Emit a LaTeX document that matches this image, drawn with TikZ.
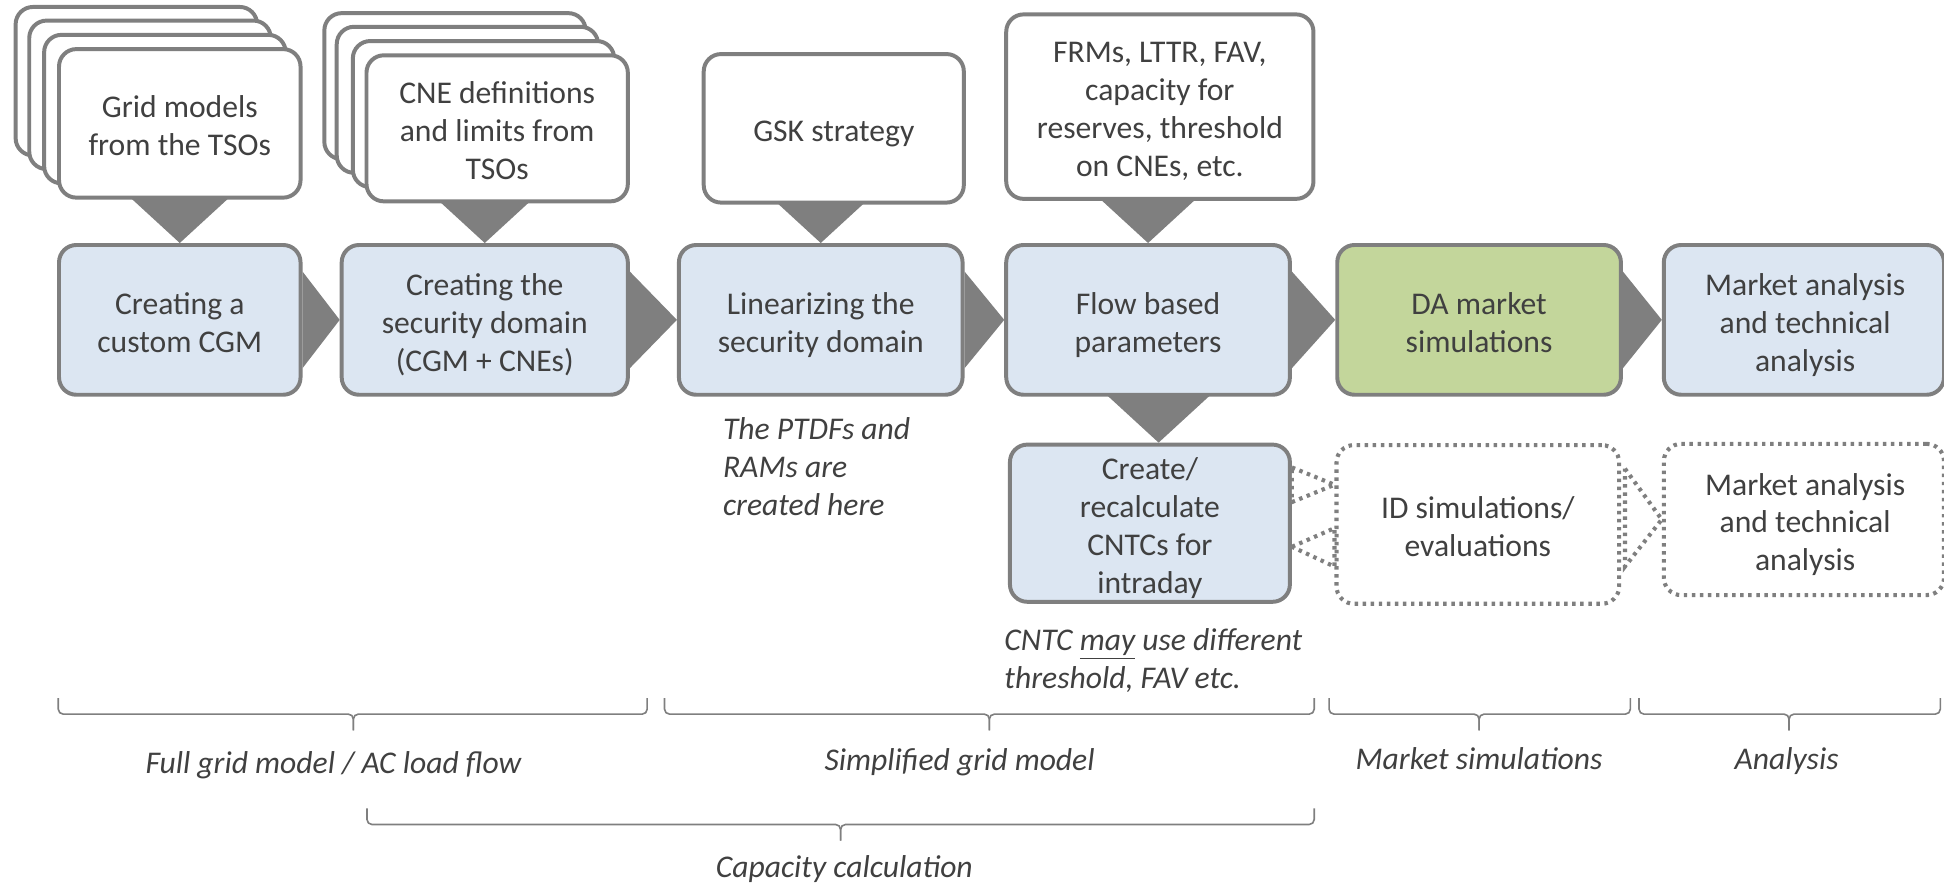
\documentclass[tikz,border=0pt]{standalone}
\usepackage{fontspec}
\setmainfont{Carlito}
\usetikzlibrary{calc}
\definecolor{boxblue}{HTML}{DCE6F2}
\definecolor{boxgreen}{HTML}{C3D69B}
\definecolor{edge}{HTML}{7F7F7F}
\definecolor{ink}{HTML}{404040}
\pgfdeclarelayer{bg}
\pgfsetlayers{bg,main}

\tikzset{
  every node/.style={font=\fontsize{25.5}{30.6}\selectfont, text=ink},
  card/.style={draw=edge, line width=3.2pt, rounded corners=14pt, inner sep=0pt},
  stepcard/.style={card, fill=boxblue},
  note/.style={card, fill=white},
  dotcard/.style={draw=edge, line width=3.3pt, dash pattern=on 2.8pt off 3.7pt,
                  rounded corners=14pt, fill=white, inner sep=0pt},
  boxtext/.style={align=center, inner sep=0pt, text depth=0pt},
  feed/.style={fill=edge},
  dotfeed/.style={draw=edge, line width=3.3pt, dash pattern=on 2.8pt off 3.7pt, fill=white},
  brace/.style={draw=edge, line width=1.3pt, rounded corners=4pt},
  caption/.style={font=\fontsize{25.5}{30.6}\selectfont\itshape, text=ink,
                  inner sep=0pt, text depth=0pt},
}

\begin{document}
\begin{tikzpicture}[x=1pt, y=-1pt]
\useasboundingbox (0,0) rectangle (1568,713);

% ---- input stacks (back copies first) ----
\node[note, minimum width=194.8pt, minimum height=119.8pt] (gm3) at (110,65.5) {};
\node[note, minimum width=194.8pt, minimum height=119.8pt] (gm2) at (121,76.5) {};
\node[note, minimum width=194.8pt, minimum height=119.8pt] (gm1) at (133,88) {};
\node[note, minimum width=194.8pt, minimum height=119.8pt] (gm) at (145,99.5) {};
\node[boxtext] (gmt) at ($(gm)+(0,2)$) {Grid models\\from the TSOs};

\node[note, minimum width=210.8pt, minimum height=117.8pt] (cne3) at (367,69.5) {};
\node[note, minimum width=210.8pt, minimum height=117.8pt] (cne2) at (377,80.5) {};
\node[note, minimum width=210.8pt, minimum height=117.8pt] (cne1) at (390,92) {};
\node[note, minimum width=210.8pt, minimum height=117.8pt] (cne) at (401,103.5) {};
\node[boxtext] (cnet) at ($(cne)+(0,2)$) {CNE definitions\\and limits from\\TSOs};

\node[note, minimum width=209.8pt, minimum height=119.8pt] (gsk) at (672.5,103.5) {};
\node[boxtext] (gskt) at ($(gsk)+(0,2)$) {GSK strategy};
\node[note, minimum width=247.8pt, minimum height=148.8pt] (frm) at (935.5,86) {};
\node[boxtext] (frmt) at ($(frm)+(0,2.5)$)
  {FRMs, LTTR, FAV,\\capacity for\\reserves, threshold\\on CNEs, etc.};

% ---- process chain ----
\node[stepcard, minimum width=194.8pt, minimum height=120.8pt] (b1) at (145,258) {};
\node[stepcard, minimum width=230.8pt, minimum height=120.8pt] (b2) at (391,258) {};
\node[stepcard, minimum width=228.8pt, minimum height=120.8pt] (b3) at (662,258) {};
\node[stepcard, minimum width=228.8pt, minimum height=120.8pt] (b4) at (926,258) {};
\node[card, fill=boxgreen, minimum width=228.8pt, minimum height=120.8pt] (b5) at (1193,258) {};
\node[stepcard, minimum width=226pt, minimum height=120.8pt] (b6) at (1455,258) {};

\node[boxtext] (b1t) at ($(b1)+(0,2)$) {Creating a\\custom CGM};
\node[boxtext] (b2t) at ($(b2)+(0,2)$) {Creating the\\security domain\\(CGM + CNEs)};
\node[boxtext] (b3t) at ($(b3)+(0,2)$) {Linearizing the\\security domain};
\node[boxtext] (b4t) at ($(b4)+(0,2)$) {Flow based\\parameters};
\node[boxtext] (b5t) at ($(b5)+(0,2)$) {DA market\\simulations};
\node[boxtext] (b6t) at ($(b6)+(1,2)$) {Market analysis\\and technical\\analysis};

% ---- intraday branch ----
\node[stepcard, minimum width=225.8pt, minimum height=126.8pt] (cntc) at (927.5,422) {};
\node[dotcard, minimum width=228pt, minimum height=128pt] (id) at (1192,423) {};
\node[dotcard, minimum width=226pt, minimum height=122pt] (mktd) at (1455,419) {};

\node[boxtext] (cntct) at ($(cntc)+(0,2)$) {Create/\\recalculate\\CNTCs for\\intraday};
\node[boxtext] (idt) at ($(id)+(0,2)$) {ID simulations/\\evaluations};
\node[boxtext] (mktdt) at ($(mktd)+(1,2)$) {Market analysis\\and technical\\analysis};

% ---- solid feed triangles, behind the boxes ----
\begin{pgfonlayer}{bg}
  \foreach \lower in {b1,b2,b3,b4}{
    \fill[feed] ($(\lower.north)+(-49,-45)$) -- ($(\lower.north)+(49,-45)$)
      -- (\lower.north) -- cycle;
  }
  \fill[feed] ($(cntc.north)+(-42,-45)$) -- ($(cntc.north)+(56,-45)$)
    -- ($(cntc.north)+(7,0)$) -- cycle;
  \foreach \a/\b in {b1/b2,b2/b3,b3/b4,b4/b5,b5/b6}{
    \fill[feed] ($(\a.east)+(0,-39)$) -- (\b.west) -- ($(\a.east)+(0,39)$) -- cycle;
  }
\end{pgfonlayer}

% ---- dotted links of the intraday branch ----
\draw[dotfeed] ($(cntc.east)+(0,-45)$) -- ($(id.west)+(0,-32)$)
  -- ($(cntc.east)+(0,-17)$) -- cycle;
\draw[dotfeed] ($(cntc.east)+(0,19)$) -- ($(id.west)+(0,3)$)
  -- ($(id.west)+(0,34)$) -- cycle;
\draw[dotfeed] ($(id.east)+(3,-45)$) -- (mktd.west) -- ($(id.east)+(3,34)$) -- cycle;

% ---- annotations ----
\node[caption, anchor=west, align=left] (ptdf) at (583,376)
  {The PTDFs and\\RAMs are\\created here};
\node[caption, anchor=west, align=left] (cntcnote) at (810,531.5)
  {CNTC \underline{may} use different\\threshold, FAV etc.};

% ---- braces and phase labels ----
\node[caption] (lfull) at (269,615) {Full grid model / AC load flow};
\node[caption] (lsimp) at (774,613) {Simplified grid model};
\node[caption] (lmkt) at (1193,612) {Market simulations};
\node[caption] (lana) at (1441,612) {Analysis};
\node[caption] (lcap) at (681,699) {Capacity calculation};

\draw[brace] (47,563) |- (285,576) -- (285,589);
\draw[brace] (522,563) |- (285,576) -- (285,589);
\draw[brace] (536,563) |- (798,576) -- (798,589);
\draw[brace] (1060,563) |- (798,576) -- (798,589);
\draw[brace] (1072,563) |- (1193,576) -- (1193,589);
\draw[brace] (1315,563) |- (1193,576) -- (1193,589);
\draw[brace] (1322,563) |- (1443,576) -- (1443,589);
\draw[brace] (1565,563) |- (1443,576) -- (1443,589);
\draw[brace] (296,652) |- (678,665) -- (678,678);
\draw[brace] (1060,652) |- (678,665) -- (678,678);
\end{tikzpicture}
\end{document}
